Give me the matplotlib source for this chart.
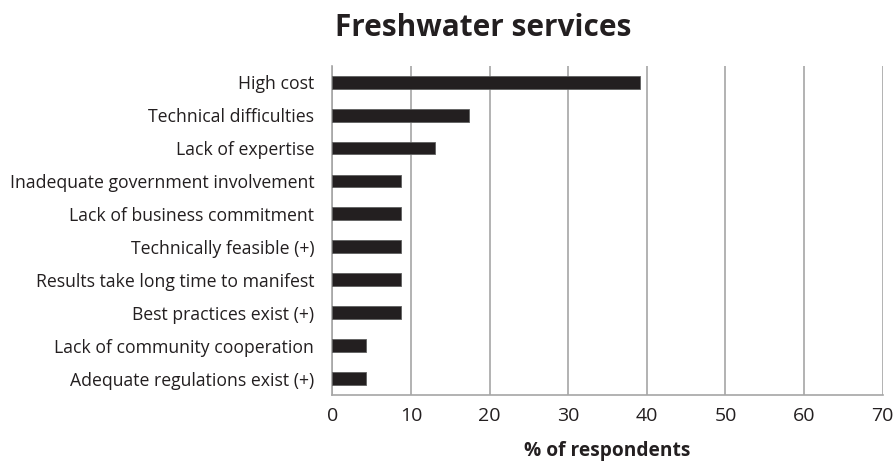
import matplotlib
matplotlib.use("Agg")
import matplotlib.pyplot as plt
import numpy as np

plt.rcParams['font.family'] = ['Open Sans', 'DejaVu Sans']

categories = [
    "High cost",
    "Technical difficulties",
    "Lack of expertise",
    "Inadequate government involvement",
    "Lack of business commitment",
    "Technically feasible (+)",
    "Results take long time to manifest",
    "Best practices exist (+)",
    "Lack of community cooperation",
    "Adequate regulations exist (+)",
]
values = [39.1, 17.4, 13.0, 8.7, 8.7, 8.7, 8.7, 8.7, 4.3, 4.3]
xticks = [0, 10, 20, 30, 40, 50, 60, 70]

fig = plt.figure(figsize=(8.95, 4.63), dpi=100)
ax = fig.add_axes([0.3713, 0.1469, 0.615, 0.7111])

y = np.arange(len(categories))
ax.barh(y, values, height=0.39, color='#231f20', edgecolor='#606060', linewidth=0.6, zorder=3)
ax.set_ylim(len(categories) - 0.5, -0.5)
ax.set_xlim(0, 70)
ax.set_yticks(y)
ax.set_yticklabels(categories, fontsize=12.7, color='#231f20')
ax.set_xticks(xticks)
ax.set_xticklabels([str(t) for t in xticks], fontsize=14, color='#231f20')
ax.tick_params(axis='both', length=0)
ax.tick_params(axis='y', pad=13)
ax.tick_params(axis='x', pad=9)

ax.grid(axis='x', color='#a6a6a6', linewidth=1.2, zorder=0)
for s in ['top', 'right']:
    ax.spines[s].set_visible(False)
for s in ['left', 'bottom']:
    ax.spines[s].set_color('#a6a6a6')
    ax.spines[s].set_linewidth(1.2)

ax.set_xlabel("% of respondents", fontsize=13.8, fontweight='bold', color='#231f20', labelpad=11)
fig.text(0.5397, 0.922, "Freshwater services", ha='center', va='baseline',
         fontsize=21.4, fontweight='bold', color='#231f20')

fig.savefig("out.png", dpi=100)
